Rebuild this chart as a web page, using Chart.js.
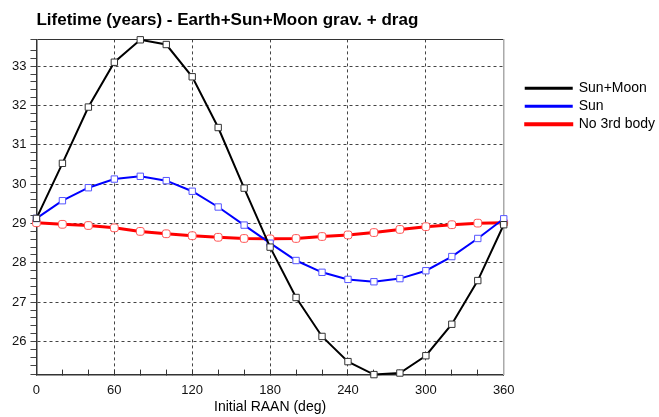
<!DOCTYPE html>
<html>
<head>
<meta charset="utf-8">
<script src="https://cdn.jsdelivr.net/npm/chart.js@4"></script>
<style>
  body { margin: 0; background: #fff; }
  canvas { display: block; }
</style>
</head>
<body>
<canvas id="lifeChart" width="659" height="417"></canvas>
<script>
// initial RAAN, deg
const raan = [0, 20, 40, 60, 80, 100, 120, 140, 160, 180, 200, 220, 240, 260, 280, 300, 320, 340, 360];
// lifetime in years
const sunMoon = [29.13, 30.53, 31.96, 33.10, 33.67, 33.55, 32.73, 31.44, 29.90, 28.40, 27.12, 26.13, 25.49, 25.16, 25.20, 25.64, 26.44, 27.55, 28.97];
const sunOnly = [29.13, 29.58, 29.91, 30.13, 30.20, 30.09, 29.82, 29.42, 28.96, 28.50, 28.06, 27.76, 27.58, 27.52, 27.60, 27.80, 28.16, 28.62, 29.12];
const noThird = [29.02, 28.98, 28.95, 28.89, 28.80, 28.74, 28.69, 28.65, 28.62, 28.61, 28.62, 28.67, 28.71, 28.77, 28.85, 28.92, 28.97, 29.01, 29.02];
const yMin = 25.16, yMax = 33.68;

function pts(arr) {
  return raan.map((x, i) => ({ x: x, y: arr[i] }));
}
function isWhole(v) {
  return Math.abs(v - Math.round(v)) < 1e-6;
}

const font = 'Liberation Sans, Arial, sans-serif';

new Chart(document.getElementById('lifeChart'), {
  type: 'line',
  data: {
    datasets: [{
      label: 'Sun+Moon',
      data: pts(sunMoon),
      borderColor: '#000',
      backgroundColor: '#000',
      borderWidth: 2,
      pointStyle: 'rect',
      pointRadius: 4.5,
      pointBorderWidth: 1,
      pointBorderColor: '#333',
      pointBackgroundColor: '#fff'
    }, {
      label: 'Sun',
      data: pts(sunOnly),
      borderColor: '#0000ff',
      backgroundColor: '#0000ff',
      borderWidth: 2,
      pointStyle: 'rect',
      pointRadius: 4.5,
      pointBorderWidth: 1,
      pointBorderColor: '#5555ff',
      pointBackgroundColor: '#fff'
    }, {
      label: 'No 3rd body',
      data: pts(noThird),
      borderColor: '#ff0000',
      backgroundColor: '#ff0000',
      borderWidth: 3,
      pointStyle: 'rectRounded',
      pointRadius: 4.5,
      pointBorderWidth: 1,
      pointBorderColor: '#ff5555',
      pointBackgroundColor: '#fff'
    }]
  },
  options: {
    responsive: false,
    animation: false,
    clip: 6,
    layout: { padding: { left: 8, right: -6, top: 0, bottom: 0 } },
    plugins: {
      title: {
        display: true,
        fullSize: false,
        text: 'Lifetime (years) - Earth+Sun+Moon grav. + drag',
        align: 'start',
        color: '#000',
        font: { family: font, size: 17, weight: 'bold' },
        padding: { top: 10, bottom: 9 }
      },
      legend: {
        position: 'right',
        align: 'start',
        maxWidth: 200,
        title: { display: true, text: ' ', font: { size: 1 }, padding: { top: 76, bottom: 0 } },
        labels: {
          boxWidth: 46,
          boxHeight: 1,
          padding: 4,
          color: '#000',
          font: { family: font, size: 14 }
        }
      },
      tooltip: { enabled: false }
    },
    scales: {
      x: {
        type: 'linear',
        min: 0,
        max: 360,
        ticks: {
          stepSize: 20,
          autoSkip: false,
          maxRotation: 0,
          padding: 13,
          color: '#111',
          font: { family: font, size: 13 },
          callback: v => (v % 60 === 0 ? v : '')
        },
        grid: {
          tickLength: -5,
          tickColor: '#333',
          color: c => (c.tick.value % 60 === 0 && c.tick.value < 360 ? '#444' : 'rgba(0,0,0,0)')
        },
        border: { color: '#333', width: 1.5, dash: [3, 3] },
        title: {
          display: true,
          text: 'Initial RAAN (deg)',
          color: '#000',
          font: { family: font, size: 14 },
          padding: { top: -12, bottom: 1 }
        }
      },
      y: {
        min: yMin,
        max: yMax,
        ticks: {
          stepSize: 0.2,
          autoSkip: false,
          padding: 4,
          color: '#111',
          font: { family: font, size: 13 },
          callback: v => (isWhole(v) ? Math.round(v) : '')
        },
        grid: {
          tickLength: 6,
          tickColor: '#444',
          color: c => (c.tick.value === yMax ? '#333' : (isWhole(c.tick.value) ? '#444' : 'rgba(0,0,0,0)'))
        },
        border: {
          color: '#333',
          width: 1.5,
          dash: c => (c.tick && c.tick.value === yMax ? [] : [3, 3])
        }
      },
      // empty right axis: light frame line and the gap before the legend
      yFrame: {
        position: 'right',
        min: yMin,
        max: yMax,
        afterFit: s => { s.width = 18; },
        ticks: { display: false },
        grid: { display: false },
        border: { color: '#aaa', width: 1.5 }
      }
    }
  }
});
</script>
</body>
</html>
